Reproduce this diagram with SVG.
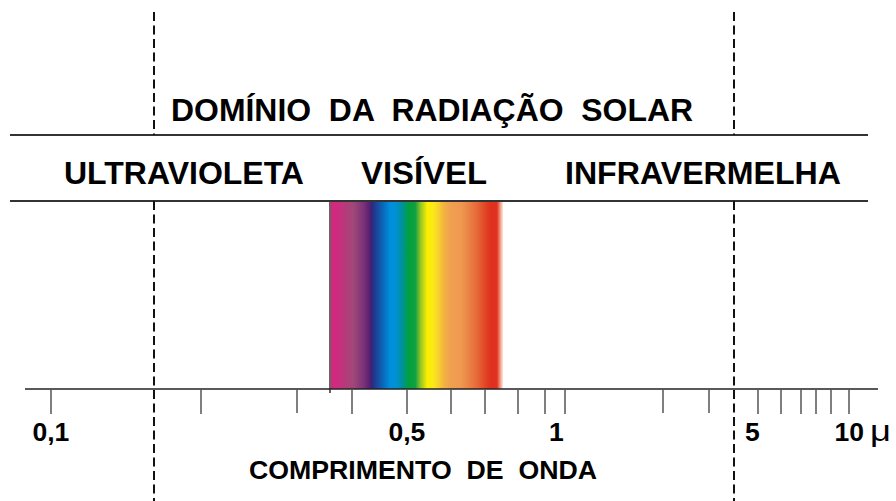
<svg xmlns="http://www.w3.org/2000/svg" width="896" height="501" viewBox="0 0 896 501">
<defs>
<linearGradient id="spec" x1="331" y1="0" x2="503" y2="0" gradientUnits="userSpaceOnUse">
<stop offset="0" stop-color="#d6267e"/>
<stop offset="0.03" stop-color="#d02a7e"/>
<stop offset="0.13" stop-color="#a04878"/>
<stop offset="0.19" stop-color="#7a3278"/>
<stop offset="0.227" stop-color="#561e70"/>
<stop offset="0.238" stop-color="#2a2a80"/>
<stop offset="0.30" stop-color="#0a66b8"/>
<stop offset="0.345" stop-color="#0090dc"/>
<stop offset="0.375" stop-color="#0090d8"/>
<stop offset="0.415" stop-color="#00909a"/>
<stop offset="0.45" stop-color="#00a040"/>
<stop offset="0.49" stop-color="#10a040"/>
<stop offset="0.52" stop-color="#90c428"/>
<stop offset="0.56" stop-color="#fbf000"/>
<stop offset="0.595" stop-color="#fce818"/>
<stop offset="0.625" stop-color="#f8d030"/>
<stop offset="0.655" stop-color="#f2b440"/>
<stop offset="0.695" stop-color="#f0a050"/>
<stop offset="0.76" stop-color="#ee9850"/>
<stop offset="0.85" stop-color="#e66838"/>
<stop offset="0.905" stop-color="#e04020"/>
<stop offset="0.93" stop-color="#e03020"/>
<stop offset="0.965" stop-color="#e03220"/>
<stop offset="0.985" stop-color="#f2a088"/>
<stop offset="1" stop-color="#fde8e0"/>
</linearGradient>
</defs>
<style>
.t{font-family:"Liberation Sans",Arial,sans-serif;font-weight:bold;fill:#000}
.hl{stroke:#333;stroke-width:2;fill:none}
.dash{stroke:#111;stroke-width:2;stroke-dasharray:9 4.5;fill:none}
.tick{stroke:#555;stroke-width:1.5}
.axis{stroke:#222;stroke-width:1.5}
</style>
<g id="spectrum">
<rect x="331" y="201" width="172" height="188" fill="url(#spec)"/>
<line x1="330" y1="201" x2="330" y2="393" stroke="#333" stroke-width="1.5"/>
</g>
<g id="connectors">
<line class="hl" x1="10" y1="135" x2="868" y2="135"/>
<line class="hl" x1="10" y1="201" x2="868" y2="201"/>
<line class="dash" x1="154" y1="12" x2="154" y2="135"/>
<line class="dash" x1="154" y1="201" x2="154" y2="501"/>
<line class="dash" x1="734" y1="12" x2="734" y2="135"/>
<line class="dash" x1="734" y1="201" x2="734" y2="501"/>
</g>
<g id="axis">
<line class="axis" x1="25" y1="389" x2="878" y2="389"/>
<g class="tick">
<line x1="51" y1="389" x2="51" y2="414"/>
<line x1="201" y1="389" x2="201" y2="414"/>
<line x1="297" y1="389" x2="297" y2="413"/>
<line x1="352" y1="389" x2="352" y2="414"/>
<line x1="407" y1="389" x2="407" y2="414"/>
<line x1="451" y1="389" x2="451" y2="414"/>
<line x1="485" y1="389" x2="485" y2="414"/>
<line x1="518" y1="389" x2="518" y2="414"/>
<line x1="545" y1="389" x2="545" y2="414"/>
<line x1="565" y1="389" x2="565" y2="414"/>
<line x1="663" y1="389" x2="663" y2="413"/>
<line x1="709" y1="389" x2="709" y2="413"/>
<line x1="758" y1="389" x2="758" y2="414"/>
<line x1="781" y1="389" x2="781" y2="414"/>
<line x1="801" y1="389" x2="801" y2="414"/>
<line x1="816" y1="389" x2="816" y2="414"/>
<line x1="831" y1="389" x2="831" y2="414"/>
<line x1="849" y1="389" x2="849" y2="414"/>
</g>
</g>
<g id="title">
<text class="t" x="171" y="121" font-size="31" textLength="522" lengthAdjust="spacingAndGlyphs" xml:space="preserve">DOMÍNIO  DA  RADIAÇÃO  SOLAR</text>
</g>
<g id="ultravioleta">
<text class="t" x="64" y="184" font-size="31" textLength="240" lengthAdjust="spacingAndGlyphs">ULTRAVIOLETA</text>
</g>
<g id="visivel">
<text class="t" x="361" y="184" font-size="31" textLength="126" lengthAdjust="spacingAndGlyphs">VISÍVEL</text>
</g>
<g id="infravermelha">
<text class="t" x="565" y="184" font-size="31" textLength="276" lengthAdjust="spacingAndGlyphs">INFRAVERMELHA</text>
</g>
<g id="labels">
<text class="t" x="32.5" y="440.5" font-size="26.5">0,1</text>
<text class="t" x="388.5" y="440.5" font-size="26.5">0,5</text>
<text class="t" x="549" y="440.5" font-size="26.5">1</text>
<text class="t" x="745" y="440.5" font-size="26.5">5</text>
<text class="t" x="834.5" y="440.5" font-size="26.5">10</text>
<text x="870" y="441" font-size="30" font-family="Liberation Sans,Arial,sans-serif" fill="#000" textLength="21" lengthAdjust="spacingAndGlyphs">μ</text>
</g>
<g id="xlabel">
<text class="t" x="249" y="479" font-size="26" textLength="348" lengthAdjust="spacingAndGlyphs" xml:space="preserve">COMPRIMENTO  DE  ONDA</text>
</g>
</svg>
